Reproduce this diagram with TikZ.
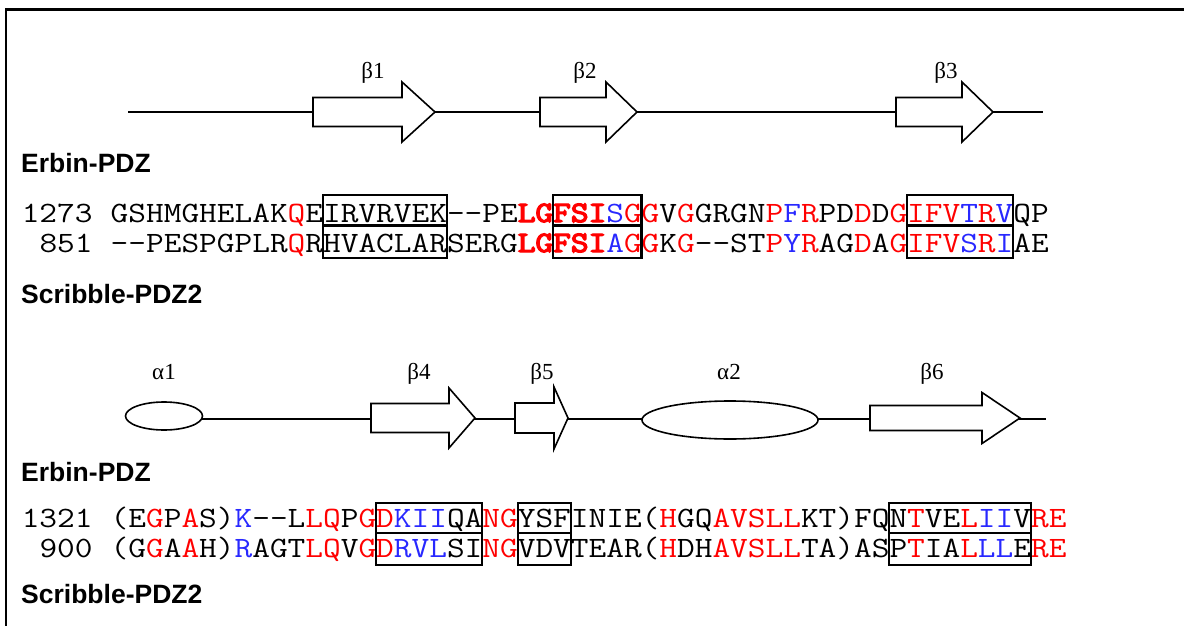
\documentclass[tikz,border=0pt]{standalone}
\usepackage{graphicx}
\usepackage{fontspec}
\setmainfont{Liberation Serif}
\newfontfamily\arialf{Liberation Sans}
\usetikzlibrary{shapes.geometric}
\definecolor{seqred}{RGB}{255,0,0}
\definecolor{seqblue}{RGB}{40,40,255}
\newcommand\cR[1]{\textcolor{seqred}{#1}}
\newcommand\cB[1]{\textcolor{seqblue}{#1}}
\newcommand\cRB[1]{\textcolor{seqred}{\special{pdf:literal direct 2 Tr 1.3 w}#1\special{pdf:literal direct 0 Tr}}}
\newcommand\dd{\mbox{-}\mbox{-}}
\newlength\chw
\newcommand\chscale{1}
\newcommand\hs[1]{\scalebox{\chscale}[1]{#1}}
\newcommand\betastrand[7]{% name, left x, head base x, tip x, centre y, shaft half, head half
  \draw[strand] (#2,#5-#6) -- (#3,#5-#6) -- (#3,#5-#7) -- (#4,#5) -- (#3,#5+#7) -- (#3,#5+#6) -- (#2,#5+#6) -- cycle;
  \coordinate (#1L) at (#2,#5); \coordinate (#1R) at (#4,#5);}
\tikzset{
  seq/.style={anchor=base west, inner sep=0pt, font=\ttfamily\fontsize{29.5}{30}\selectfont},
  num/.style={anchor=base east, inner sep=0pt, font=\ttfamily\fontsize{29.5}{30}\selectfont},
  title/.style={anchor=base west, inner sep=0pt, font=\arialf\bfseries\fontsize{26.5}{28}\selectfont},
  lbl/.style={anchor=base, inner sep=0pt, font=\fontsize{23}{25}\selectfont},
  strand/.style={draw, line width=1.6pt, fill=white, line join=miter},
  helix/.style={draw, ellipse, line width=1.6pt, fill=white, inner sep=0pt},
  backbone/.style={line width=2.6pt},
  segbox/.style={line width=2.2pt},
  frame/.style={line width=2.8pt}
}
\begin{document}
\settowidth\chw{\ttfamily\fontsize{29.5}{30}\selectfont MMMMMMMMMM}%
\pgfmathsetmacro\chscale{177/\chw}%
\begin{tikzpicture}[x=1pt,y=-1pt]
\useasboundingbox (0,0) rectangle (1184,626);
% frame
\coordinate (fb) at (6,626);
\coordinate (fc) at (6,9.5);
\coordinate (fr) at (1184,9.5);
\draw[frame] (fb) -- (fc) -- (fr);

% ---------- top topology ----------
\coordinate (tA) at (128,112);
\coordinate (tB) at (1043,112);
\draw[backbone] (tA) -- (tB);
\betastrand{b1}{313}{402}{435}{112}{14.5}{30}
\betastrand{b2}{540}{606}{637}{112}{14.5}{30}
\betastrand{b3}{896}{962}{993}{112}{14.5}{30}
\node[lbl] (lb1) at (373,78) {β1};
\node[lbl] (lb2) at (585,78) {β2};
\node[lbl] (lb3) at (946,78) {β3};

\node[title] (t1) at (21,172.5) {Erbin-PDZ};
\node[num] (n1) at ({22+4*17.7},222) {\hs{1273}};
\node[seq] (s1) at ({22+5*17.7},222) {\hs{GSHMGHELAK\cR{Q}EIRVRVEK\dd PE\cRB{LGFSI}\cB{S}\cR{GG}V\cR{G}GRGN\cR{P}\cB{F}\cR{R}PD\cR{D}D\cR{G}\cR{IFV}\cB{T}\cR{R}\cB{V}QP}};
\node[num] (n2) at ({22+4*17.7},252) {\hs{851}};
\node[seq] (s2) at ({22+5*17.7},252) {\hs{\dd PESPGPLR\cR{Q}RHVACLARSERG\cRB{LGFSI}\cB{A}\cR{GG}K\cR{G}\dd ST\cR{P}\cB{Y}\cR{R}AG\cR{D}A\cR{G}\cR{IFV}\cB{S}\cR{R}\cB{I}AE}};
\node[title] (t2) at (21,303) {Scribble-PDZ2};
% boxes block 1
\foreach \a/\b in {17/24,30/35,50/56}{
  \draw[segbox] ({22+\a*17.7},195) rectangle ({22+\b*17.7},258);
  \draw[segbox] ({22+\a*17.7},225.5) -- ({22+\b*17.7},225.5);
}

% ---------- bottom topology ----------
\coordinate (bS) at (164,419);
\coordinate (bE) at (1046,419);
\draw[backbone] (bS) -- (bE);
\node[helix, minimum width=77pt, minimum height=28pt] (a1) at (164,416) {};
\node[helix, minimum width=176pt, minimum height=38pt] (a2) at (730,420) {};
\betastrand{b4}{371}{449}{475}{418}{14.5}{30}
\betastrand{b5}{515}{554}{568}{418}{15}{31}
\betastrand{b6}{870}{982}{1020}{418}{12.5}{25.5}
\node[lbl] (la1) at (164,379) {α1};
\node[lbl] (lb4) at (419,379) {β4};
\node[lbl] (lb5) at (542,379) {β5};
\node[lbl] (la2) at (729,379) {α2};
\node[lbl] (lb6) at (932,379) {β6};

\node[title] (t3) at (21,481) {Erbin-PDZ};
\node[num] (n3) at ({22+4*17.7},527) {\hs{1321}};
\node[seq] (s3) at ({22+5*17.7},527) {\hs{(E\cR{G}P\cR{A}S)\cB{K}\dd L\cR{LQ}P\cR{G}\cR{D}\cB{KII}QA\cR{NG}YSFINIE(\cR{H}GQ\cR{AVSLL}KT)FQN\cR{T}VE\cR{L}\cB{II}V\cR{RE}}};
\node[num] (n4) at ({22+4*17.7},557) {\hs{900}};
\node[seq] (s4) at ({22+5*17.7},557) {\hs{(G\cR{G}A\cR{A}H)\cB{R}AGT\cR{LQ}V\cR{G}\cR{D}\cB{RVL}SI\cR{NG}VDVTEAR(\cR{H}DH\cR{AVSLL}TA)ASP\cR{T}IA\cR{L}\cB{LL}E\cR{RE}}};
\node[title] (t4) at (21,603) {Scribble-PDZ2};
% boxes block 2
\foreach \a/\b in {20/26,28/31,49/57}{
  \draw[segbox] ({22+\a*17.7},503) rectangle ({22+\b*17.7},565);
  \draw[segbox] ({22+\a*17.7},533) -- ({22+\b*17.7},533);
}
\end{tikzpicture}
\end{document}
